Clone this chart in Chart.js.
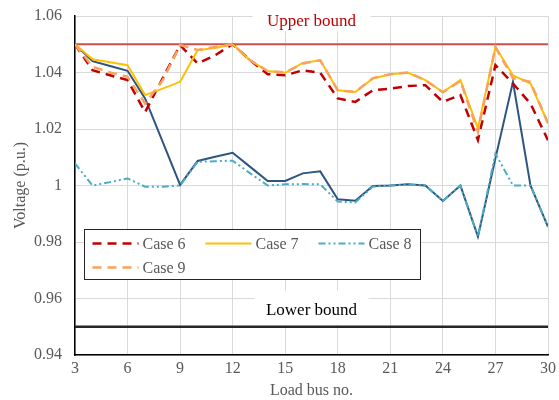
<!DOCTYPE html>
<html>
<head>
<meta charset="utf-8">
<script src="https://cdn.jsdelivr.net/npm/chart.js@4/dist/chart.umd.min.js"></script>
<style>
  html, body { margin: 0; padding: 0; background: #ffffff; }
  #wrap { width: 559px; height: 400px; }
</style>
</head>
<body>
<div id="wrap"><canvas id="chart" width="559" height="400"></canvas></div>
<script>
// Load bus numbers on the horizontal axis
const loadBuses = [3,4,5,6,7,8,9,10,11,12,13,14,15,16,17,18,19,20,21,22,23,24,25,26,27,28,29,30];

// Bus voltage profiles (p.u.)
const baseCase = [1.050,1.044,1.0423,1.0406,1.0308,1.0155,1.0002,1.0087,1.0102,1.0116,1.0066,1.0016,1.0016,1.0043,1.0050,0.9951,0.9946,0.9998,1.0000,1.0004,1.0000,0.9945,1.0000,0.9819,1.0096,1.0367,1.0000,0.9854];
const case6 = [1.050,1.0408,1.039,1.0373,1.026,1.0379,1.0497,1.0432,1.0461,1.050,1.0443,1.0394,1.0390,1.0408,1.0399,1.0308,1.0296,1.0337,1.0343,1.0352,1.0355,1.0296,1.0320,1.0161,1.0426,1.0361,1.0290,1.0160];
const case7 = [1.050,1.0447,1.0436,1.0426,1.032,1.0343,1.0367,1.0479,1.0487,1.050,1.0443,1.0405,1.0399,1.0434,1.0443,1.0337,1.0331,1.0379,1.0394,1.0399,1.0373,1.0331,1.0373,1.0202,1.0490,1.0390,1.0361,1.0220];
const case8 = [1.0078,1.000,1.0012,1.0025,0.9996,0.9996,1.000,1.0084,1.0086,1.0088,1.0043,1.000,1.0004,1.0005,1.0004,0.9943,0.9940,0.9996,1.000,1.0003,1.000,0.9945,1.000,0.9819,1.0113,1.000,1.000,0.9854];
const case9 = [1.050,1.042,1.040,1.0385,1.029,1.0372,1.0497,1.048,1.049,1.050,1.0443,1.0405,1.0400,1.0432,1.0443,1.0337,1.0331,1.0380,1.0394,1.0400,1.0373,1.0330,1.0370,1.0190,1.0490,1.0380,1.0367,1.0220];

// Voltage limits
const upperBound = 1.05;
const lowerBound = 0.95;

// Axis ranges and ticks
const yTicks = [0.94, 0.96, 0.98, 1.00, 1.02, 1.04, 1.06];
const xTicks = [3, 6, 9, 12, 15, 18, 21, 24, 27, 30];

const serif = '"Liberation Serif", "Times New Roman", serif';
const textGray = '#595959';

const toPoints = vals => loadBuses.map((b, i) => ({ x: b, y: vals[i] }));

const datasets = [
  { label: 'Case 9', data: toPoints(case9), borderColor: '#F9A15E', borderWidth: 2.5, borderDash: [9, 6], order: 1 },
  { label: 'Case 8', data: toPoints(case8), borderColor: '#4BACC6', borderWidth: 2, borderDash: [7, 3, 2, 3, 2, 3], order: 2 },
  { label: 'Case 7', data: toPoints(case7), borderColor: '#FFC000', borderWidth: 2, order: 3 },
  { label: 'Case 6', data: toPoints(case6), borderColor: '#C00000', borderWidth: 2.5, borderDash: [9, 6], order: 4 },
  { label: 'Base case', data: toPoints(baseCase), borderColor: '#2E5580', borderWidth: 2, order: 5 },
  { label: 'Upper bound', data: [{ x: loadBuses[0], y: upperBound }, { x: loadBuses[loadBuses.length - 1], y: upperBound }], borderColor: '#C9504F', borderWidth: 2, order: 6 },
  { label: 'Lower bound', data: [{ x: loadBuses[0], y: lowerBound }, { x: loadBuses[loadBuses.length - 1], y: lowerBound }], borderColor: '#262626', borderWidth: 2.5, order: 6 }
];
datasets.forEach(d => { d.pointRadius = 0; d.tension = 0; d.fill = false; d.borderCapStyle = 'butt'; });

// Bound captions with white backing, drawn before the series
const boundLabels = {
  id: 'boundLabels',
  beforeDatasetsDraw(chart) {
    const { ctx, chartArea, scales } = chart;
    const cx = (chartArea.left + chartArea.right) / 2;
    const yU = scales.y.getPixelForValue(upperBound);
    const yL = scales.y.getPixelForValue(lowerBound);
    ctx.save();
    ctx.fillStyle = '#ffffff';
    ctx.fillRect(cx - 59, chartArea.top - 6, 118, yU - chartArea.top - 7);
    ctx.fillRect(cx - 57, yL - 36, 114, 34);
    ctx.font = '17px ' + serif;
    ctx.textAlign = 'center';
    ctx.textBaseline = 'middle';
    ctx.fillStyle = '#C00000';
    ctx.fillText('Upper bound', cx, yU - 23);
    ctx.fillStyle = '#000000';
    ctx.fillText('Lower bound', cx, yL - 16);
    ctx.restore();
  }
};

// Boxed legend inside the plot area
const boxLegend = {
  id: 'boxLegend',
  afterDatasetsDraw(chart) {
    const { ctx, chartArea } = chart;
    const items = ['Case 6', 'Case 7', 'Case 8', 'Case 9']
      .map(name => chart.data.datasets.find(d => d.label === name));
    const left = chartArea.left + 9.5, top = chartArea.top + 213.5;
    const w = 336, h = 50;
    ctx.save();
    ctx.fillStyle = '#ffffff';
    ctx.fillRect(left, top, w, h);
    ctx.strokeStyle = '#262626';
    ctx.lineWidth = 1;
    ctx.strokeRect(left, top, w, h);
    const slots = [
      { x: left + 8, y: top + 14 },
      { x: left + 121, y: top + 14 },
      { x: left + 234, y: top + 14 },
      { x: left + 8, y: top + 38 }
    ];
    ctx.font = '16px ' + serif;
    ctx.textBaseline = 'middle';
    ctx.textAlign = 'left';
    items.forEach((ds, i) => {
      const s = slots[i];
      ctx.beginPath();
      ctx.strokeStyle = ds.borderColor;
      ctx.lineWidth = ds.borderWidth;
      ctx.setLineDash(ds.borderDash || []);
      ctx.moveTo(s.x, s.y);
      ctx.lineTo(s.x + 46, s.y);
      ctx.stroke();
      ctx.setLineDash([]);
      ctx.fillStyle = textGray;
      ctx.fillText(ds.label, s.x + 50, s.y + 1);
    });
    ctx.restore();
  }
};

new Chart(document.getElementById('chart'), {
  type: 'line',
  data: { datasets },
  options: {
    responsive: false,
    animation: false,
    devicePixelRatio: 1,
    layout: { padding: { top: 16, right: 11, left: 0, bottom: 0 } },
    plugins: { legend: { display: false }, tooltip: { enabled: false } },
    scales: {
      x: {
        type: 'linear',
        min: xTicks[0], max: xTicks[xTicks.length - 1],
        afterBuildTicks: s => { s.ticks = xTicks.map(v => ({ value: v })); },
        afterFit: s => { s.height = 45; s.paddingLeft = 0; s.paddingRight = 0; },
        grid: { color: '#D9D9D9', lineWidth: 1, drawTicks: false },
        border: { color: '#000000', width: 1.5 },
        ticks: { font: { family: serif, size: 16 }, color: textGray, padding: 4, maxRotation: 0 },
        title: { display: true, text: 'Load bus no.', font: { family: serif, size: 16 }, color: textGray, padding: { top: 0, bottom: 0 } }
      },
      y: {
        min: yTicks[0], max: yTicks[yTicks.length - 1],
        afterBuildTicks: s => { s.ticks = yTicks.map(v => ({ value: v })); },
        afterFit: s => { s.width = 75; s.paddingTop = 0; s.paddingBottom = 0; },
        grid: { color: '#D9D9D9', lineWidth: 1, drawTicks: false },
        border: { color: '#000000', width: 1.5 },
        ticks: { font: { family: serif, size: 16 }, color: textGray, padding: 13, callback: v => String(Number(v.toFixed(2))) },
        title: { display: true, text: 'Voltage (p.u.)', font: { family: serif, size: 16 }, color: textGray, padding: { top: 11, bottom: 0 } }
      }
    }
  },
  plugins: [boundLabels, boxLegend]
});
</script>
</body>
</html>
